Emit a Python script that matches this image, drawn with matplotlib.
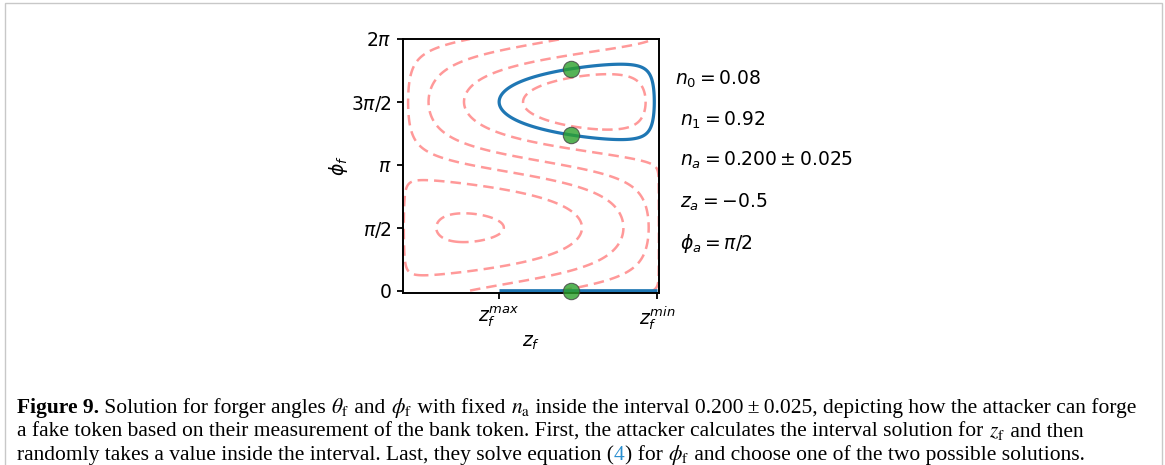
import numpy as np
import matplotlib
matplotlib.use("Agg")
import matplotlib.pyplot as plt
from matplotlib.patches import Rectangle

# ---------------- data ----------------
n0 = 0.08
n1 = 0.92
na = 0.200
na_err = 0.025
za = -0.5
phia = np.pi / 2
dashed_levels = [0.15, 0.30, 0.45, 0.60, 0.75, 0.90]
z_interval = [-0.25, 0.985]          # z_f^max (left) ... z_f^min (right)
z_pick = 0.31                        # randomly chosen z_f
phi_solutions = [3.89, 5.54]         # the two phi_f solutions at z_pick
ytick_vals = [0, np.pi / 2, np.pi, 3 * np.pi / 2, 2 * np.pi]
ytick_labels = [r"$0$", r"$\pi/2$", r"$\pi$", r"$3\pi/2$", r"$2\pi$"]
xtick_labels = [r"$z_f^{max}$", r"$z_f^{min}$"]
param_labels = [r"$n_0 = 0.08$", r"$n_1 = 0.92$", r"$n_a = 0.200 \pm 0.025$",
                r"$z_a = -0.5$", r"$\phi_a = \pi/2$"]

# grid of the measured probability n(z_f, phi_f)
z = np.linspace(-1, 1, 600)
phi = np.linspace(0, 2 * np.pi, 600)
Z, PHI = np.meshgrid(z, phi)
dot = np.sqrt(1 - za**2) * np.sqrt(np.clip(1 - Z**2, 0, None)) * np.cos(PHI - phia) + za * Z
N = n0 + (n1 - n0) * (1 + dot) / 2

# ---------------- figure ----------------
W, H = 1165, 465
fig = plt.figure(figsize=(W / 100, H / 100), dpi=100)
fig.patch.set_facecolor("white")

# page frame
fig.patches.append(Rectangle((5 / W, -0.1), (1162 - 5) / W, (H - 3) / H + 0.1,
                             transform=fig.transFigure, fill=False,
                             edgecolor="#c8c8c8", linewidth=1.0))

FS = 13.5
ax_l, ax_r, ax_t, ax_b = 403, 659, 39, 293
ax = fig.add_axes([ax_l / W, 1 - ax_b / H, (ax_r - ax_l) / W, (ax_b - ax_t) / H])

ax.contour(Z, PHI, N, levels=dashed_levels, colors=[(1, 0.6, 0.6)],
           linestyles=[(0, (4.2, 2.4))], linewidths=1.8)
ax.contour(Z, PHI, N, levels=[na], colors=["#1f77b4"], linewidths=2.3)
ax.plot(z_interval, [0, 0], color="#1f77b4", linewidth=3.4, solid_capstyle="butt")
ax.plot([z_pick] * 3, [0] + phi_solutions, "o", color="tab:green", alpha=0.8,
        markersize=11.8, markeredgecolor="#444444", markeredgewidth=0.8,
        zorder=5, clip_on=False)

ax.set_xlim(-1, 1)
ax.set_ylim(-0.06, 2 * np.pi)
ax.set_yticks(ytick_vals)
ax.set_yticklabels(ytick_labels)
ax.set_xticks(z_interval)
ax.set_xticklabels(xtick_labels)
ax.tick_params(labelsize=FS, width=1.3, length=4.5)
for s in ax.spines.values():
    s.set_linewidth(1.4)
ax.set_ylabel(r"$\phi_f$", fontsize=FS, labelpad=1)
ax.set_xlabel(r"$z_f$", fontsize=FS, labelpad=1)

# parameter annotations
py = [79, 120, 160, 202, 243]
px = [675, 680, 680, 680, 680]
for lab, xx, yy in zip(param_labels, px, py):
    fig.text(xx / W, 1 - yy / H, lab, fontsize=FS, ha="left", va="center")

# ---------------- caption ----------------
fig.canvas.draw()
renderer = fig.canvas.get_renderer()
cap_size = 15.5
serif = "Liberation Serif"


def rich_line(x_px, y_px, segs):
    x = x_px
    for txt, kw in segs:
        props = dict(fontsize=cap_size, family=serif, math_fontfamily="stix",
                     va="baseline", ha="left")
        props.update(kw)
        t = fig.text(x / W, 1 - y_px / H, txt, **props)
        x += t.get_window_extent(renderer).width
    return x


M = {}
rich_line(17, 413, [
    ("Figure 9.", dict(weight="bold")),
    (" Solution for forger angles ", M),
    (r"$\theta_{\mathrm{f}}$", M),
    (" and ", M),
    (r"$\phi_{\mathrm{f}}$", M),
    (" with fixed ", M),
    (r"$n_{\mathrm{a}}$", M),
    (" inside the interval 0.200\u2009\u00b1\u20090.025, depicting how the attacker can forge", M),
])
rich_line(17, 437, [
    ("a fake token based on their measurement of the bank token. First, the attacker calculates the interval solution for ", M),
    (r"$z_{\mathrm{f}}$", M),
    (" and then", M),
])
rich_line(17, 460, [
    ("randomly takes a value inside the interval. Last, they solve equation (", M),
    ("4", dict(color="#2a8fd0")),
    (") for ", M),
    (r"$\phi_{\mathrm{f}}$", M),
    (" and choose one of the two possible solutions.", M),
])

fig.savefig("out.png", dpi=100, facecolor="white")
